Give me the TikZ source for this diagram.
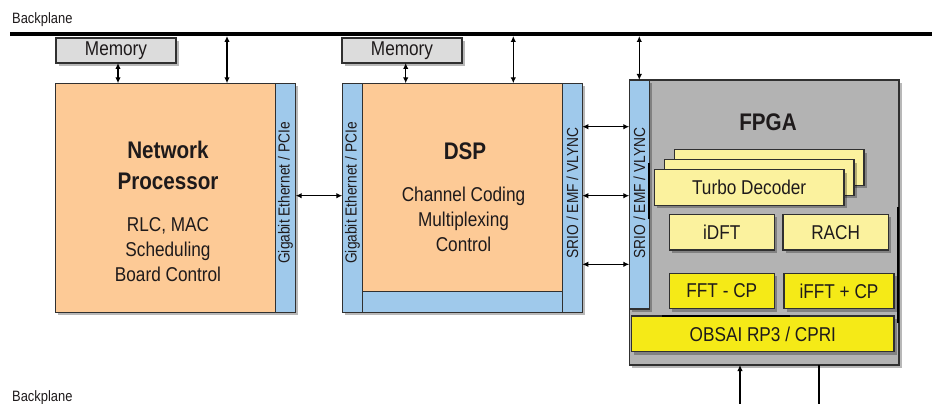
\documentclass[tikz,border=0pt]{standalone}
\usepackage{fontspec}
\setmainfont{Liberation Sans}[FakeStretch=0.86]
\usetikzlibrary{arrows.meta,shadows}
\definecolor{orng}{HTML}{FDCA96}
\definecolor{blu}{HTML}{9FC9EB}
\definecolor{gry}{HTML}{B3B3B3}
\definecolor{memg}{HTML}{DCDCDC}
\definecolor{ylt}{HTML}{FBF29E}
\definecolor{ybr}{HTML}{F5EA17}
\definecolor{txt}{HTML}{1E1A1B}
\definecolor{edge}{HTML}{303030}
\begin{document}
\begin{tikzpicture}[x=1pt,y=-1pt,
  box/.style={rectangle,draw=edge,line width=1.4pt,inner sep=0pt,outer sep=0pt,
    drop shadow={shadow xshift=2.5pt,shadow yshift=-3pt,opacity=0.28,fill=black}},
  orbox/.style={box,fill=orng},
  blbox/.style={box,fill=blu},
  ltbox/.style={box,fill=ylt,font=\fontsize{20}{24}\selectfont,text=txt},
  brbox/.style={box,fill=ybr,font=\fontsize{20}{24}\selectfont,text=txt},
  membox/.style={box,fill=memg,font=\fontsize{20}{24}\selectfont,text=txt},
  big/.style={font=\fontsize{24}{28}\bfseries\selectfont,text=txt,anchor=base,inner sep=0pt},
  mid/.style={font=\fontsize{20}{24}\selectfont,text=txt,anchor=base,inner sep=0pt},
  strip/.style={font=\fontsize{16}{19}\selectfont,text=txt,rotate=90,inner sep=0pt},
  bpl/.style={font=\fontsize{15}{18}\selectfont,text=txt,anchor=base west,inner sep=0pt},
  darr/.style={{Latex[length=6pt,width=5.5pt]}-{Latex[length=6pt,width=5.5pt]},line width=1.4pt},
  uarr/.style={-{Latex[length=6pt,width=5.5pt]},line width=1.4pt},
  plain/.style={line width=1.4pt}
]
\useasboundingbox (0,0) rectangle (932,404);

% backplane
\node[rectangle,fill=black,inner sep=0pt,minimum width=922pt,minimum height=3.6pt] (bp) at (471,34) {};
\node[bpl] (bptop) at (12,24) {Backplane};
\node[bpl] (bpbot) at (12,401) {Backplane};

% memories
\node[membox,minimum width=120pt,minimum height=25pt] (mem1) at (116,50.5) {Memory};
\node[membox,minimum width=120pt,minimum height=25pt] (mem2) at (402,50.5) {Memory};

% network processor
\node[orbox,minimum width=220pt,minimum height=229pt] (np) at (165.5,197.8) {};
\node[blbox,minimum width=20.2pt,minimum height=229pt] (npS) at (285.6,197.8) {};
\node[strip] (npSt) at (285.6,193) {Gigabit Ethernet / PCIe};
\node[big] (npT1) at (168,158) {Network};
\node[big] (npT2) at (168,189) {Processor};
\node[mid] (npA) at (168,231) {RLC, MAC};
\node[mid] (npB) at (168,256) {Scheduling};
\node[mid] (npC) at (168,281) {Board Control};

% DSP
\node[blbox,minimum width=20.4pt,minimum height=229pt] (dspL) at (352.5,197.8) {};
\node[orbox,minimum width=199.6pt,minimum height=208.4pt] (dsp) at (462.5,187.5) {};
\node[blbox,minimum width=199.6pt,minimum height=20.6pt] (dspB) at (462.5,302) {};
\node[blbox,minimum width=20pt,minimum height=229pt] (dspR) at (572.3,197.8) {};
\node[strip] (dspLt) at (352.5,193) {Gigabit Ethernet / PCIe};
\node[strip] (dspRt) at (572.3,193) {SRIO / EMF / VLYNC};
\node[big] (dspT) at (465,159) {DSP};
\node[mid] (dspA) at (463.5,201.7) {Channel Coding};
\node[mid] (dspB2) at (463.5,226.7) {Multiplexing};
\node[mid] (dspC) at (463.5,251) {Control};

% FPGA
\node[box,fill=gry,minimum width=269.7pt,minimum height=285pt] (fpga) at (764.15,222.5) {};
\node[blbox,minimum width=20pt,minimum height=229pt] (fpgaL) at (639.3,194.5) {};
\node[strip] (fpgaLt) at (639.3,193) {SRIO / EMF / VLYNC};
\node[big] (fpgaT) at (768,130) {FPGA};
\node[ltbox,minimum width=189.7pt,minimum height=35.5pt] (turbo3) at (769.15,167.5) {};
\node[ltbox,minimum width=189.7pt,minimum height=35.5pt] (turbo2) at (759.15,177.5) {};
\node[ltbox,minimum width=189.7pt,minimum height=35.5pt] (turbo1) at (749.15,187.5) {Turbo Decoder};
\node[ltbox,minimum width=105pt,minimum height=35.7pt] (idft) at (721.8,232.15) {iDFT};
\node[ltbox,minimum width=105.3pt,minimum height=35.7pt] (rach) at (835.65,232.15) {RACH};
\node[brbox,minimum width=105pt,minimum height=35.4pt] (fft) at (721.8,291) {FFT - CP};
\node[brbox,minimum width=110pt,minimum height=35.4pt] (ifft) at (839,291) {iFFT + CP};
\node[brbox,minimum width=262.3pt,minimum height=35.7pt] (obsai) at (762.85,333.85) {OBSAI RP3 / CPRI};

% stray black marks
\draw[line width=2.5pt] (649,163) -- (649,219);
\draw[line width=2.8pt] (898,207) -- (898,323);
\draw[line width=2pt] (662,316) -- (790,316);

% connectors
\coordinate (c118) at (118,0);
\coordinate (c227) at (227,0);
\coordinate (c405) at (405.7,0);
\coordinate (c513) at (513.3,0);
\coordinate (r1) at (0,126.7);
\coordinate (r2) at (0,195.7);
\coordinate (r3) at (0,264.3);
\coordinate (b740) at (740,404);
\coordinate (b819) at (819,404);

\draw[darr] (c118 |- mem1.south) -- (c118 |- np.north);
\draw[darr] (c227 |- bp.south) -- (c227 |- np.north);
\draw[darr] (c405 |- mem2.south) -- (c405 |- dsp.north);
\draw[darr] (c513 |- bp.south) -- (c513 |- dsp.north);
\draw[darr] (fpgaL.north |- bp.south) -- (fpgaL.north);
\draw[darr] (npS.east |- r2) -- (dspL.west |- r2);
\draw[darr] (dspR.east |- r1) -- (fpgaL.west |- r1);
\draw[darr] (dspR.east |- r2) -- (fpgaL.west |- r2);
\draw[darr] (dspR.east |- r3) -- (fpgaL.west |- r3);
\draw[uarr] (b740) -- (b740 |- fpga.south);
\draw[plain] (b819 |- fpga.south) -- (b819);
\end{tikzpicture}
\end{document}
